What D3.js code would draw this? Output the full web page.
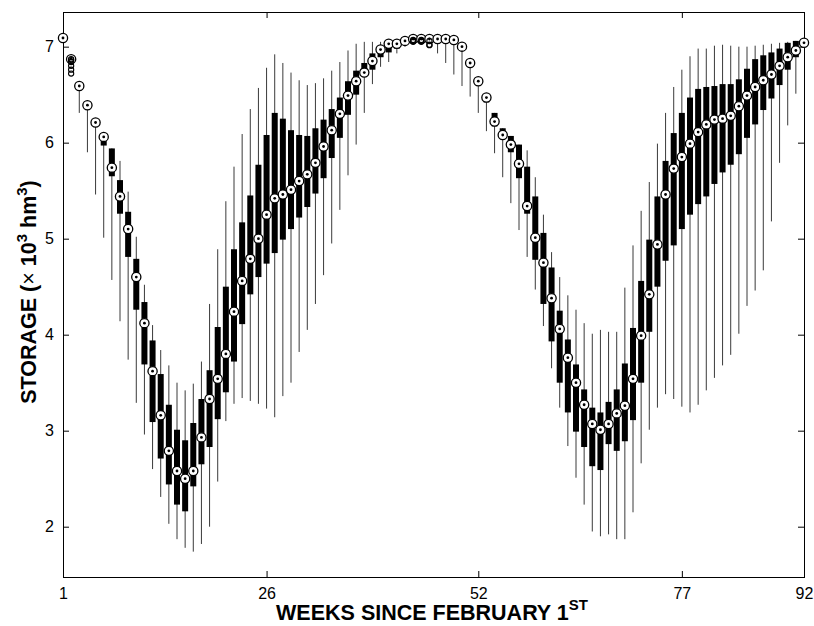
<!DOCTYPE html>
<html>
<head>
<meta charset="utf-8">
<script src="https://cdn.jsdelivr.net/npm/d3@7"></script>
<style>
  body { margin: 0; background: #fff; }
  svg { display: block; font-family: "Liberation Sans", Arial, Helvetica, sans-serif; }
</style>
</head>
<body>
<script>
// weekly storage distribution (x 10^3 hm^3), weeks 1..92 since February 1st
let weeks = d3.range(1, 93);

let medians = [7.09, 6.87, 6.59, 6.39, 6.21, 6.06, 5.74, 5.44, 5.10, 4.60,
  4.12, 3.62, 3.16, 2.79, 2.58, 2.50, 2.58, 2.93, 3.33, 3.54,
  3.80, 4.24, 4.56, 4.79, 5.00, 5.25, 5.42, 5.46, 5.51, 5.60,
  5.67, 5.79, 5.96, 6.13, 6.30, 6.49, 6.64, 6.73, 6.85, 6.97,
  7.03, 7.03, 7.06, 7.08, 7.08, 7.08, 7.08, 7.08, 7.07, 7.00,
  6.83, 6.64, 6.47, 6.22, 6.08, 5.98, 5.78, 5.34, 5.01, 4.75,
  4.38, 4.06, 3.76, 3.50, 3.27, 3.07, 3.01, 3.07, 3.18, 3.26,
  3.54, 3.99, 4.42, 4.94, 5.46, 5.73, 5.85, 5.99, 6.11, 6.19,
  6.24, 6.25, 6.28, 6.38, 6.49, 6.58, 6.65, 6.71, 6.80, 6.89,
  6.96, 7.04];

let upperQuartile = [7.09, 6.87, 6.60, 6.40, 6.22, 6.05, 5.94, 5.61, 5.28, 4.79,
  4.34, 3.94, 3.59, 3.27, 3.01, 2.90, 3.08, 3.33, 3.63, 4.08,
  4.50, 4.89, 5.17, 5.45, 5.77, 6.08, 6.31, 6.25, 6.13, 6.08,
  6.07, 6.15, 6.24, 6.35, 6.47, 6.64, 6.75, 6.83, 6.93, 6.98,
  7.03, 7.04, 7.07, 7.08, 7.08, 7.08, 7.08, 7.08, 7.07, 7.01,
  6.85, 6.66, 6.49, 6.31, 6.15, 6.07, 5.98, 5.75, 5.44, 5.06,
  4.70, 4.25, 3.95, 3.69, 3.43, 3.24, 3.19, 3.30, 3.43, 3.70,
  4.07, 4.56, 4.99, 5.44, 5.81, 6.10, 6.31, 6.47, 6.56, 6.58,
  6.59, 6.61, 6.61, 6.66, 6.77, 6.87, 6.91, 6.94, 6.98, 7.04,
  7.06, 7.04];

let lowerQuartile = [7.09, 6.87, 6.58, 6.38, 6.20, 5.97, 5.65, 5.26, 4.81, 4.26,
  3.69, 3.09, 2.71, 2.44, 2.23, 2.16, 2.42, 2.65, 2.83, 3.12,
  3.40, 3.72, 4.11, 4.42, 4.60, 4.74, 4.85, 4.99, 5.10, 5.22,
  5.33, 5.47, 5.63, 5.84, 6.05, 6.29, 6.50, 6.69, 6.76, 6.89,
  6.94, 6.98, 7.03, 7.08, 7.08, 7.08, 7.06, 7.05, 7.03, 6.96,
  6.79, 6.60, 6.42, 6.17, 6.04, 5.90, 5.63, 5.26, 4.78, 4.32,
  3.93, 3.50, 3.19, 2.99, 2.83, 2.63, 2.59, 2.86, 2.79, 2.89,
  3.11, 3.50, 4.03, 4.50, 4.77, 4.93, 5.10, 5.25, 5.36, 5.44,
  5.57, 5.69, 5.77, 5.88, 6.05, 6.19, 6.34, 6.46, 6.60, 6.76,
  6.89, 7.04];

let whiskerHigh = [7.09, 6.87, 6.60, 6.40, 6.22, 6.06, 5.94, 5.81, 5.49, 5.02,
  4.52, 4.10, 3.84, 3.68, 3.50, 3.42, 3.49, 3.72, 4.32, 4.89,
  5.39, 5.75, 6.09, 6.35, 6.57, 6.78, 6.92, 6.83, 6.73, 6.65,
  6.60, 6.62, 6.67, 6.75, 6.84, 6.96, 7.03, 7.05, 7.05, 7.05,
  7.06, 7.06, 7.08, 7.08, 7.08, 7.08, 7.08, 7.08, 7.07, 7.02,
  6.86, 6.67, 6.50, 6.31, 6.15, 6.07, 5.98, 5.92, 5.64, 5.25,
  4.86, 4.60, 4.41, 4.26, 4.12, 4.01, 4.05, 4.03, 4.03, 4.49,
  4.93, 5.29, 5.59, 5.99, 6.31, 6.58, 6.76, 6.90, 6.98, 6.98,
  7.01, 7.02, 7.01, 7.00, 7.00, 7.01, 7.02, 7.03, 7.04, 7.05,
  7.06, 7.04];

let whiskerLow = [7.09, 6.87, 6.31, 5.90, 5.46, 5.01, 4.57, 4.14, 3.74, 3.29,
  2.96, 2.60, 2.31, 2.03, 1.87, 1.78, 1.74, 1.82, 2.00, 2.47,
  3.10, 3.28, 3.34, 3.31, 3.28, 3.23, 3.14, 3.36, 3.50, 3.82,
  4.05, 4.32, 4.62, 4.95, 5.30, 5.66, 5.98, 6.31, 6.61, 6.79,
  6.84, 6.93, 7.00, 7.08, 7.08, 7.08, 6.93, 6.83, 6.71, 6.59,
  6.48, 6.31, 6.12, 5.89, 5.64, 5.37, 5.09, 4.81, 4.47, 4.09,
  3.65, 3.24, 2.84, 2.51, 2.23, 1.95, 1.90, 1.92, 1.87, 1.87,
  2.15, 2.66, 3.01, 3.24, 3.38, 3.33, 3.25, 3.19, 3.27, 3.42,
  3.55, 3.68, 3.79, 4.01, 4.30, 4.46, 4.67, 5.18, 5.79, 6.18,
  6.51, 7.04];

// [week, value]
let outliers = [[2, 6.87], [2, 6.86], [2, 6.84], [2, 6.80], [2, 6.76], [2, 6.72],
  [44, 7.07], [44, 7.06], [44, 7.05],
  [45, 7.07], [45, 7.06], [45, 7.05],
  [46, 7.06], [46, 7.02], [46, 7.015]];

let xTicks = [1, 26, 52, 77, 92];
let yTicks = [2, 3, 4, 5, 6, 7];

let width = 814;
let height = 626;
let plotLeft = 63, plotRight = 804, plotTop = 12, plotBottom = 577;
let boxWidth = 6;
let tickLen = 6;

let svg = d3.select("body").append("svg")
            .attr("width", width)
            .attr("height", height);

svg.append("rect").attr("width", width).attr("height", height).attr("fill", "#fff");

let x = d3.scaleLinear().domain([1, 92]).range([plotLeft, plotRight]);
let y = d3.scaleLinear().domain([1.476, 7.361]).range([plotBottom, plotTop]);

let rows = weeks.map(function(w, i) {
  return { week: w, med: medians[i], q3: upperQuartile[i], q1: lowerQuartile[i],
           hi: whiskerHigh[i], lo: whiskerLow[i] };
});

// axes (ticks point inward, like MATLAB)
function styleAxis(g) {
  g.select(".domain").remove();
  g.selectAll(".tick line").attr("stroke", "#000");
  g.selectAll("text").attr("fill", "#000")
   .style("font-family", '"Liberation Sans", Arial, Helvetica, sans-serif')
   .style("font-size", "16px");
}

svg.append("g").attr("transform", "translate(0," + plotBottom + ")")
   .call(d3.axisBottom(x).tickValues(xTicks).tickSize(-tickLen).tickPadding(11)
           .tickFormat(d3.format("d")))
   .call(styleAxis);
svg.append("g").attr("transform", "translate(0," + plotTop + ")")
   .call(d3.axisTop(x).tickValues(xTicks).tickSize(-tickLen).tickFormat(""))
   .call(styleAxis);
svg.append("g").attr("transform", "translate(" + plotLeft + ",0)")
   .call(d3.axisLeft(y).tickValues(yTicks).tickSize(-tickLen).tickPadding(9)
           .tickFormat(d3.format("d")))
   .call(styleAxis);
svg.append("g").attr("transform", "translate(" + plotRight + ",0)")
   .call(d3.axisRight(y).tickValues(yTicks).tickSize(-tickLen).tickFormat(""))
   .call(styleAxis);

svg.append("rect")
   .attr("x", plotLeft + 0.5).attr("y", plotTop + 0.5)
   .attr("width", plotRight - plotLeft).attr("height", plotBottom - plotTop)
   .attr("fill", "none").attr("stroke", "#000").attr("stroke-width", 1);

let plot = svg.append("g");

// whiskers
plot.selectAll("line.whisker").data(rows).enter().append("line")
    .attr("class", "whisker")
    .attr("x1", function(d) { return x(d.week); })
    .attr("x2", function(d) { return x(d.week); })
    .attr("y1", function(d) { return y(d.hi); })
    .attr("y2", function(d) { return y(d.lo); })
    .attr("stroke", "#3a3a3a")
    .attr("stroke-width", 1);

// boxes
plot.selectAll("rect.box").data(rows).enter().append("rect")
    .attr("class", "box")
    .attr("x", function(d) { return x(d.week) - boxWidth / 2; })
    .attr("y", function(d) { return y(d.q3); })
    .attr("width", boxWidth)
    .attr("height", function(d) { return y(d.q1) - y(d.q3); })
    .attr("fill", "#000");

// median markers
plot.selectAll("circle.med").data(rows).enter().append("circle")
    .attr("class", "med")
    .attr("cx", function(d) { return x(d.week); })
    .attr("cy", function(d) { return y(d.med); })
    .attr("r", 4.6)
    .attr("fill", "#fff")
    .attr("stroke", "#000")
    .attr("stroke-width", 1.3);

plot.selectAll("circle.dot").data(rows).enter().append("circle")
    .attr("class", "dot")
    .attr("cx", function(d) { return x(d.week); })
    .attr("cy", function(d) { return y(d.med); })
    .attr("r", 1.4)
    .attr("fill", "#000");

// outliers
plot.selectAll("circle.out").data(outliers).enter().append("circle")
    .attr("class", "out")
    .attr("cx", function(d) { return x(d[0]); })
    .attr("cy", function(d) { return y(d[1]); })
    .attr("r", 2.6)
    .attr("fill", "none")
    .attr("stroke", "#000")
    .attr("stroke-width", 1.1);

// axis labels
let xLabel = svg.append("text")
   .attr("x", 432).attr("y", 620)
   .attr("text-anchor", "middle")
   .style("font-size", "21.5px").style("font-weight", "bold");
xLabel.append("tspan").text("WEEKS SINCE FEBRUARY 1");
xLabel.append("tspan").attr("dy", -10).style("font-size", "15px").text("ST");

let yLabel = svg.append("text")
   .attr("transform", "translate(36,292) rotate(-90)")
   .attr("text-anchor", "middle")
   .style("font-size", "21.5px").style("font-weight", "bold");
yLabel.append("tspan").text("STORAGE (");
yLabel.append("tspan").style("font-weight", "normal").text("\u00d7");
yLabel.append("tspan").text(" 10");
yLabel.append("tspan").attr("dy", -9).style("font-size", "15px").text("3");
yLabel.append("tspan").attr("dy", 9).text(" hm");
yLabel.append("tspan").attr("dy", -9).style("font-size", "15px").text("3");
yLabel.append("tspan").attr("dy", 9).text(")");
</script>
</body>
</html>
